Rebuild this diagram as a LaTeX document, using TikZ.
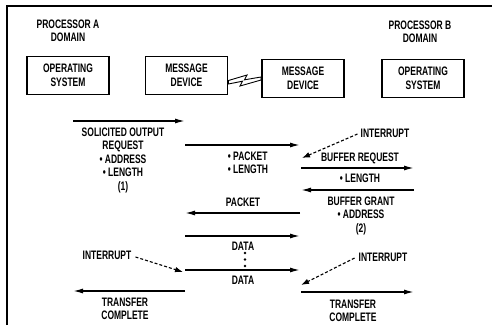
\documentclass[tikz,border=0pt]{standalone}
\usepackage{fontspec}
\setmainfont{Liberation Sans}[FakeStretch=0.69]
\usetikzlibrary{arrows.meta}
\begin{document}
\begin{tikzpicture}[x=1pt,y=-1pt,
  every node/.style={font=\fontsize{12.3}{13.5}\selectfont\bfseries, inner sep=0pt},
  box/.style={draw, line width=1.8pt, minimum width=82pt, minimum height=38pt, align=center},
  lbl/.style={align=center},
  msg/.style={line width=1.4pt, -{Latex[length=10pt,width=5pt]}},
  intr/.style={line width=1.1pt, dash pattern=on 3pt off 2pt, -{Latex[length=8pt,width=5.5pt]}},
  bolt/.style={line width=0.9pt, line join=miter}
]
\useasboundingbox (0,0) rectangle (498,325);
\draw[line width=1.8pt] (7,325) -- (7,6) -- (492,6);

% headers and boxes
\node[lbl] (pa) at (68,31) {PROCESSOR A\\DOMAIN};
\node[lbl] (pb) at (420,32) {PROCESSOR B\\DOMAIN};
\node[box] (osa) at (68,75.5) {OPERATING\\SYSTEM};
\node[box] (mda) at (186.5,75.5) {MESSAGE\\DEVICE};
\node[box] (mdb) at (303,78.5) {MESSAGE\\DEVICE};
\node[box] (osb) at (423,78.5) {OPERATING\\SYSTEM};

% lightning link
\draw[bolt] ([yshift=-5pt]mda.east) -- (247,75) -- (244.5,79.8) -- ([yshift=1.5pt]mdb.west)
  -- ([yshift=-1.5pt]mdb.west) -- (240,86) -- (242.5,81.2) -- ([yshift=-8.5pt]mda.east) -- cycle;

% labels
\node[lbl] (sol) at (123,160) {SOLICITED OUTPUT\\REQUEST\\• ADDRESS\\• LENGTH\\(1)};
\node[align=left] (pl) at (248,163) {• PACKET\\• LENGTH};
\node (pkt) at (243,202) {PACKET};
\node (d1) at (243,246) {DATA};
\node (d2) at (243,280) {DATA};
\node[lbl] (tcl) at (125,309) {TRANSFER\\COMPLETE};
\node (il) at (107,255) {INTERRUPT};
\node (ir1) at (385,133) {INTERRUPT};
\node (br) at (360,158) {BUFFER REQUEST};
\node (brl) at (360,178) {• LENGTH};
\node[lbl] (bg) at (361,215.5) {BUFFER GRANT\\• ADDRESS\\(2)};
\node (ir2) at (383,257) {INTERRUPT};
\node[lbl] (tcr) at (353,311) {TRANSFER\\COMPLETE};

\foreach \yy in {253,259.5,266} \fill (245,\yy) circle (1.4pt);

% end points of messages
\coordinate (s1) at (73,121);  \coordinate (e1) at (185,121);
\coordinate (s2) at (185,145); \coordinate (e2) at (300,145);
\coordinate (s3) at (301,168); \coordinate (e3) at (414,168);
\coordinate (s4) at (414,190); \coordinate (e4) at (301,190);
\coordinate (s5) at (300,213); \coordinate (e5) at (185,213);
\coordinate (s6) at (185,236); \coordinate (e6) at (300,236);
\coordinate (s7) at (185,270); \coordinate (e7) at (300,270);
\coordinate (s8) at (185,291); \coordinate (e8) at (73,291);
\coordinate (s9) at (301,292); \coordinate (e9) at (414,292);
\coordinate (t1) at (302,158);
\coordinate (t2) at (183,272);
\coordinate (t3) at (301,285);

\foreach \i in {1,...,9} \draw[msg] (s\i) -- (e\i);

\draw[intr] ([xshift=-3pt,yshift=-1pt]ir1.west) -- (t1);
\draw[intr] ([xshift=4pt,yshift=-2pt]il.east) -- (t2);
\draw[intr] ([xshift=-4pt,yshift=-1pt]ir2.west) -- (t3);
\end{tikzpicture}
\end{document}
